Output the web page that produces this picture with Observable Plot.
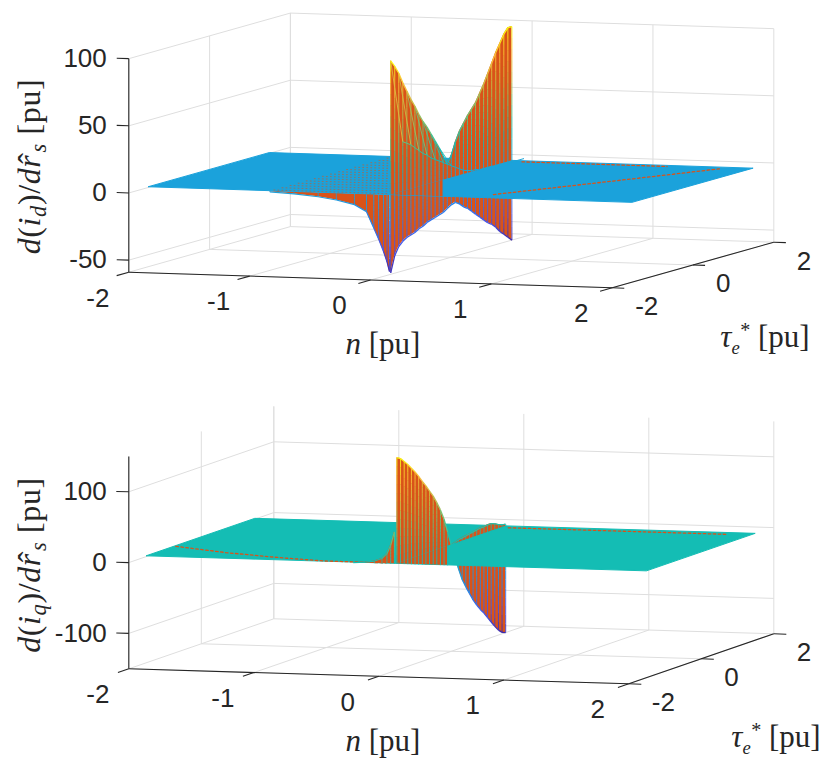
<!DOCTYPE html>
<html>
<head>
<meta charset="utf-8">
<script src="https://cdn.jsdelivr.net/npm/d3@7"></script>
<script src="https://cdn.jsdelivr.net/npm/@observablehq/plot@0.6"></script>
<style>
html,body{margin:0;padding:0;background:#fff;}
#chart svg{display:block;}
</style>
</head>
<body>
<div id="chart"></div>
<script>
// ---------------- data ----------------
const nTicks = [-2, -1, 0, 1, 2];
const tauTicks = [-2, 0, 2];
const idZTicks = [-50, 0, 50, 100];
const iqZTicks = [-100, 0, 100];
const idZRange = [-59, 100];
const iqZRange = [-150, 150];
const surfNRange = [-2, 2];
const surfTauRange = [-1.5, 1.5];
const poleN = 0;      // the surfaces blow up across n = 0
const nextN = 0.1;    // next mesh column on the n > 0 side
const tauGrid = [-1.5,-1.4,-1.3,-1.2,-1.1,-1.0,-0.9,-0.8,-0.7,-0.6,-0.5,-0.4,-0.3,-0.2,-0.1,0,
                 0.1,0.2,0.3,0.4,0.5,0.6,0.7,0.8,0.9,1.0,1.1,1.2,1.3,1.4,1.5];
// d(i_d)/d r_s : value just above / just below n = 0, and on the next column
const idAbove = [100,95,89,81,74,67,61,54,48,43,37,31,25,18,11,17,26,33,38,43,47,51,57,63,70,77,84,90,96,100,100];
const idBelow = [-58,-46,-40,-37,-35,-34,-33,-31,-30,-28,-27,-26,-25,-24,-22,-20,-19,-21,-24,-26,-29,-32,-35,-38,-41,-43,-46,-50,-53,-56,-59];
const idNext  = [40,38,36,33,30,27,25,22,20,18,16,14,12,10,8,6,5,4,4,3,3,3,3,2,2,2,2,2,2,2,2];
// front edge (tau = -1.5) profile for n < 0
const idFrontN = [-1.0,-0.8,-0.6,-0.45,-0.3,-0.2,-0.14,-0.1,-0.06,-0.03,-0.01];
const idFrontZ = [-0.5,-1.5,-3,-5,-8,-13,-25,-33,-42,-50,-57];
// d(i_q)/d r_s
const iqAbove = [150,147,141,135,128,121,113,104,96,87,78,67,55,40,20,0,-19,-37,-54,-66,-77,-88,-97,-105,-112,-120,-128,-136,-143,-148,-150];
const iqBelow = [0,0,0,0,0,0,0,0,0,0,0,0,0,0,0,0,2,4,5,6,7,8,9,10,10,11,11,9,6,4,3];
const iqFrontN = [-0.35,-0.25,-0.18,-0.12,-0.08,-0.05,-0.02];
const iqFrontZ = [0,1,3,7,14,26,45];
// tau span where the raised faces next to the pole hide the flat part in front of it
const idRaisedTau = [-1.5, -0.2];
const iqRaisedTau = [-1.5, -0.1];
// faint creases on the flat part, as (n, tau) points
const idCreases = [
  [[0.1,1.45],[0.7,1.45],[1.3,1.45]],
  [[0.75,-1.2],[1.1,-0.3],[1.45,0.6],[1.75,1.4]]
];
const iqCreases = [
  [[-2,-0.7],[-1.5,-1.05],[-1.0,-1.3],[-0.6,-1.45],[-0.1,-1.45]],
  [[0.05,1.4],[0.9,1.4],[1.8,1.4]]
];
// slightly tilted faces just left of the pole (top surface), n range
const idTiltN = [-1.0, -0.05];

// ---------------- view (camera) ----------------
const idView = {zRange: idZRange, origin: [128.3, 271.7], nStep: [120.85, 3.9], tStep: [40.4, -11.4], zStep: 1.343};
const iqView = {zRange: iqZRange, origin: [128.3, 282.3], nStep: [125, 3.75], tStep: [36.25, -12.5], zStep: 0.708};

const parula = d3.piecewise(d3.interpolateRgb, [
  "#3e26a8","#4455ea","#2684ec","#1ba3da","#14bdb4","#62c480","#c2bb47","#fcbe3b","#f9fb0e"]);
const FACE = "#d95319";
const AXIS = "#262626";
const GRID = "#dedede";

function proj(v, n, t, z) {
  const a = n - nTicks[0], b = t - tauTicks[0], c = z - v.zRange[0];
  return [v.origin[0] + a * v.nStep[0] + b * v.tStep[0],
          v.origin[1] + a * v.nStep[1] + b * v.tStep[1] - c * v.zStep];
}

function build(cfg) {
  const v = cfg.view;
  const [z0, z1] = v.zRange;
  const nLo = nTicks[0], nHi = nTicks[nTicks.length - 1];
  const tLo = tauTicks[0], tHi = tauTicks[tauTicks.length - 1];
  const P = (n, t, z) => proj(v, n, t, z);
  const L = (a, b, o = {}) => { const p = P(...a), q = P(...b); return {x1: p[0], y1: p[1], x2: q[0], y2: q[1], ...o}; };
  const vsegs = (n, t, za, zb, K) => d3.range(K).map(k => {
    const zA = za + (zb - za) * k / K, zB = za + (zb - za) * (k + 1) / K;
    return L([n, t, zA], [n, t, zB], {z: (zA + zB) / 2});
  });

  const grid = [];
  nTicks.forEach(n => { grid.push(L([n, tHi, z0], [n, tHi, z1])); grid.push(L([n, tLo, z0], [n, tHi, z0])); });
  tauTicks.forEach(t => { grid.push(L([nLo, t, z0], [nLo, t, z1])); grid.push(L([nLo, t, z0], [nHi, t, z0])); });
  cfg.zTicks.forEach(z => { grid.push(L([nLo, tHi, z], [nHi, tHi, z])); grid.push(L([nLo, tLo, z], [nLo, tHi, z])); });

  const axes = [L([nLo, tLo, z0], [nLo, tLo, z1]), L([nLo, tLo, z0], [nHi, tLo, z0]), L([nHi, tLo, z0], [nHi, tHi, z0])];
  cfg.zTicks.forEach(z => axes.push(L([nLo, tLo, z], [nLo - 0.1, tLo, z])));
  nTicks.forEach(n => axes.push(L([n, tLo, z0], [n, tLo - 0.3, z0])));
  tauTicks.forEach(t => axes.push(L([nHi, t, z0], [nHi + 0.1, t, z0])));

  const zLab = cfg.zTicks.map(z => { const p = P(nLo, tLo, z); return {x: p[0], y: p[1], text: String(z)}; });
  const nLab = nTicks.map(n => { const p = P(n, tLo, z0); return {x: p[0], y: p[1], text: String(n)}; });
  const tLab = tauTicks.map(t => { const p = P(nHi, t, z0); return {x: p[0], y: p[1], text: String(t)}; });

  const stripes = tauGrid.map((t, i) => ({t,
    hi: Math.max(0, cfg.above[i], cfg.below[i]),
    lo: Math.min(0, cfg.above[i], cfg.below[i])}));
  const areaOf = key => stripes.map(s => { const b = P(poleN, s.t, 0), h = P(poleN, s.t, s[key]); return {x1: b[0], y1: b[1], x2: h[0], y2: h[1]}; });
  const posArea = areaOf("hi"), negArea = areaOf("lo");
  const back = stripes.slice().reverse();
  const posEdges = back.flatMap(s => s.hi > 0 ? vsegs(poleN, s.t, 0, s.hi, 12) : []);
  const negEdges = back.flatMap(s => s.lo < 0 ? vsegs(poleN, s.t, 0, s.lo, 12) : []);
  const outline = key => d3.pairs(stripes).filter(([a, b]) => a[key] !== 0 || b[key] !== 0)
    .map(([a, b]) => L([poleN, a.t, a[key]], [poleN, b.t, b[key]], {z: (a[key] + b[key]) / 2}));
  const posOut = outline("hi"), negOut = outline("lo");

  // flat part and its front edge
  const [sn0, sn1] = surfNRange, [st0, st1] = surfTauRange;
  const plane = [L([sn0, st0, 0], [sn0, st1, 0], {z: 0}), L([sn1, st0, 0], [sn1, st1, 0], {z: 0})];
  const FL = P(sn0, st0, 0), FR = P(sn1, st0, 0);
  const frontY = x => FL[1] + (x - FL[0]) / (FR[0] - FL[0]) * (FR[1] - FL[1]);

  // part of the pole stripes seen between the pole and the front edge
  const raised = stripes.filter(s => s.t >= cfg.raisedTau[0] && s.t <= cfg.raisedTau[1]);
  const bridge = raised.map(s => { const b = P(poleN, s.t, 0); return {x1: b[0], y1: Math.max(b[1], frontY(b[0])), x2: b[0], y2: b[1], z: 0}; });

  const t0 = tauGrid[0];
  const front = cfg.frontN.map((n, i) => ({n, z: cfg.frontZ[i]}));
  const frontArea = front.map(d => { const b = P(d.n, t0, 0), h = P(d.n, t0, d.z); return {x1: b[0], y1: b[1], x2: h[0], y2: h[1]}; });
  const frontEdges = front.flatMap(d => vsegs(d.n, t0, 0, d.z, 6));
  const frontOut = d3.pairs(front).map(([a, b]) => L([a.n, t0, a.z], [b.n, t0, b.z], {z: (a.z + b.z) / 2}));
  const frontNeg = d3.sum(cfg.frontZ) < 0;

  let nextMarks = [];
  if (cfg.next) {
    const nx = tauGrid.map((t, i) => ({t, z: cfg.next[i], hi: cfg.above[i]}));
    const segs = d3.pairs(nx).map(([a, b]) => L([nextN, a.t, a.z], [nextN, b.t, b.z], {z: (a.z + b.z) / 2}));
    const conn = nx.filter((d, i) => i % 2 === 0 && d.t <= -0.2).map(d => L([poleN, d.t, d.hi], [nextN, d.t, d.z], {z: (d.hi + d.z) / 2}));
    nextMarks = [
      Plot.link(conn, {x1: "x1", y1: "y1", x2: "x2", y2: "y2", stroke: "z", strokeWidth: 0.9}),
      Plot.link(segs, {x1: "x1", y1: "y1", x2: "x2", y2: "y2", stroke: "z", strokeWidth: 1})
    ];
  }

  const creases = cfg.creases.flatMap((c, k) => c.map(([n, t]) => { const p = P(n, t, 0); return {x: p[0], y: p[1], k}; }));
  const tilt = cfg.tiltN ? tauGrid.filter((t, i) => i % 2 === 1).flatMap((t, k) =>
    cfg.tiltN.map(n => { const p = P(n, t, 0); return {x: p[0], y: p[1], k}; })) : [];

  const A = {x1: "x1", y1: "y1", x2: "x2", y2: "y2"};
  const frontAreaMark = Plot.area(frontArea, {...A, fill: FACE});
  const frontEdgeMark = Plot.link(frontEdges, {...A, stroke: "z", strokeWidth: 0.9});
  const frontOutMark = Plot.link(frontOut, {...A, stroke: "z", strokeWidth: 1.2});

  const font = "Liberation Sans, Arial, Helvetica, sans-serif";
  return Plot.plot({
    width: 830, height: 386, margin: 0,
    x: {domain: [0, 830], range: [0, 830], axis: null},
    y: {domain: [0, 386], range: [0, 386], axis: null},
    color: {type: "linear", domain: [z0, z1], interpolate: parula},
    style: {background: "#fff", fontFamily: font},
    marks: [
      Plot.link(grid, {...A, stroke: GRID, strokeWidth: 1}),
      Plot.area(negArea, {...A, fill: FACE}),
      ...(frontNeg ? [frontAreaMark] : []),
      Plot.link(negEdges, {...A, stroke: "z", strokeWidth: 0.9}),
      ...(frontNeg ? [frontEdgeMark, frontOutMark] : []),
      Plot.link(negOut, {...A, stroke: "z", strokeWidth: 1.3}),
      Plot.area(plane, {...A, fill: "z", stroke: "z", strokeWidth: 1}),
      Plot.line(tilt, {x: "x", y: "y", z: "k", stroke: FACE, strokeWidth: 1, strokeOpacity: 0.6, strokeDasharray: "1,3"}),
      Plot.line(creases, {x: "x", y: "y", z: "k", stroke: FACE, strokeWidth: 1.3, strokeDasharray: "2.5,2.5"}),
      Plot.area(bridge, {...A, fill: FACE}),
      Plot.link(bridge, {...A, stroke: "z", strokeWidth: 0.9}),
      ...(frontNeg ? [] : [frontAreaMark]),
      Plot.area(posArea, {...A, fill: FACE}),
      ...(frontNeg ? [] : [frontEdgeMark, frontOutMark]),
      Plot.link(posEdges, {...A, stroke: "z", strokeWidth: 0.9}),
      ...nextMarks,
      Plot.link(posOut, {...A, stroke: "z", strokeWidth: 1.3}),
      Plot.link(axes, {...A, stroke: AXIS, strokeWidth: 1.1}),
      Plot.text(zLab, {x: "x", y: "y", text: "text", textAnchor: "end", dx: -22, lineAnchor: "middle", fontSize: 26, fill: AXIS, fontFamily: font}),
      Plot.text(nLab, {x: "x", y: "y", text: "text", textAnchor: "middle", dx: -31, dy: 26, lineAnchor: "middle", fontSize: 26, fill: AXIS, fontFamily: font}),
      Plot.text(tLab, {x: "x", y: "y", text: "text", textAnchor: "start", dx: 23, dy: 19, lineAnchor: "middle", fontSize: 26, fill: AXIS, fontFamily: font})
    ]
  });
}

const SERIF = "'Liberation Serif', 'Times New Roman', serif";
function richText(svg, x, y, parts, rotate, size, spacing) {
  const t = d3.select(svg).append("text")
    .style("font-family", SERIF)
    .style("font-size", size + "px").style("fill", AXIS).attr("text-anchor", "middle");
  if (spacing) t.style("letter-spacing", spacing + "px");
  if (rotate) t.attr("transform", `translate(${x},${y}) rotate(-90)`);
  else t.attr("x", x).attr("y", y);
  for (const p of parts) {
    const s = t.append("tspan").text(p.t);
    s.style("font-style", p.i ? "italic" : "normal");
    if (p.s) s.style("font-size", (size * p.s) + "px");
    if (p.dx) s.attr("dx", p.dx);
    if (p.dy) s.attr("dy", p.dy);
  }
}
const ylabelParts = sub => [
  {t: "d", i: 1}, {t: "("}, {t: "i", i: 1}, {t: sub, i: 1, s: 0.7, dy: 6}, {t: ")", dy: -6}, {t: "/"},
  {t: "d", i: 1}, {t: "r", i: 1}, {t: "\u02C6", dx: -9}, {t: "s", i: 1, s: 0.7, dy: 6}, {t: " [pu]", dy: -6}
];
const nParts = [{t: "n", i: 1}, {t: " [pu]"}];
const tauParts = [{t: "\u03C4", i: 1}, {t: "e", i: 1, s: 0.6, dy: 7}, {t: "*", s: 0.65, dx: 0.5, dy: -17}, {t: " [pu]", dy: 10}];

const topPlot = build({view: idView, zTicks: idZTicks, above: idAbove, below: idBelow, next: idNext,
  frontN: idFrontN, frontZ: idFrontZ, creases: idCreases, tiltN: idTiltN, raisedTau: idRaisedTau});
const bottomPlot = build({view: iqView, zTicks: iqZTicks, above: iqAbove, below: iqBelow, next: null,
  frontN: iqFrontN, frontZ: iqFrontZ, creases: iqCreases, tiltN: null, raisedTau: iqRaisedTau});

function labels(svg, yCenter, nBase, tauX, tauBase, sub) {
  const X = svg.scale("x"), Y = svg.scale("y");
  richText(svg, X.apply(40), Y.apply(yCenter), ylabelParts(sub), true, 32, 0.6);
  richText(svg, X.apply(383), Y.apply(nBase), nParts, false, 31, 0);
  richText(svg, X.apply(tauX), Y.apply(tauBase), tauParts, false, 31, 0);
}
labels(topPlot, 166.5, 354, 765, 347, "d");
labels(bottomPlot, 179, 365, 776, 360.5, "q");

document.getElementById("chart").append(topPlot, bottomPlot);
</script>
</body>
</html>
